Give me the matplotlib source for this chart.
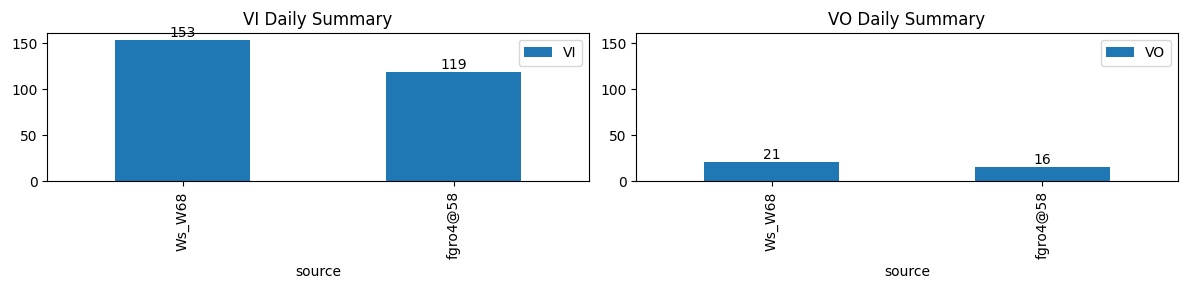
import matplotlib
matplotlib.use("Agg")
import matplotlib.pyplot as plt
import pandas as pd

sources = ["Ws_W68", "fgro4@58"]
vi_counts = [153, 119]
vo_counts = [21, 16]

df = pd.DataFrame({"source": sources, "VI": vi_counts, "VO": vo_counts}).set_index("source")

fig, axes = plt.subplots(1, 2, figsize=(11.89, 2.9), dpi=100)

ymax = max(vi_counts + vo_counts) * 1.05
for ax, col in zip(axes, ["VI", "VO"]):
    df[[col]].plot(kind="bar", ax=ax, color="#1f77b4")
    ax.set_title(col + " Daily Summary")
    ax.set_ylim(0, ymax)
    ax.legend(loc="upper right")
    for c in ax.containers:
        ax.bar_label(c)

plt.tight_layout(pad=0.8)
plt.savefig("out.png")
